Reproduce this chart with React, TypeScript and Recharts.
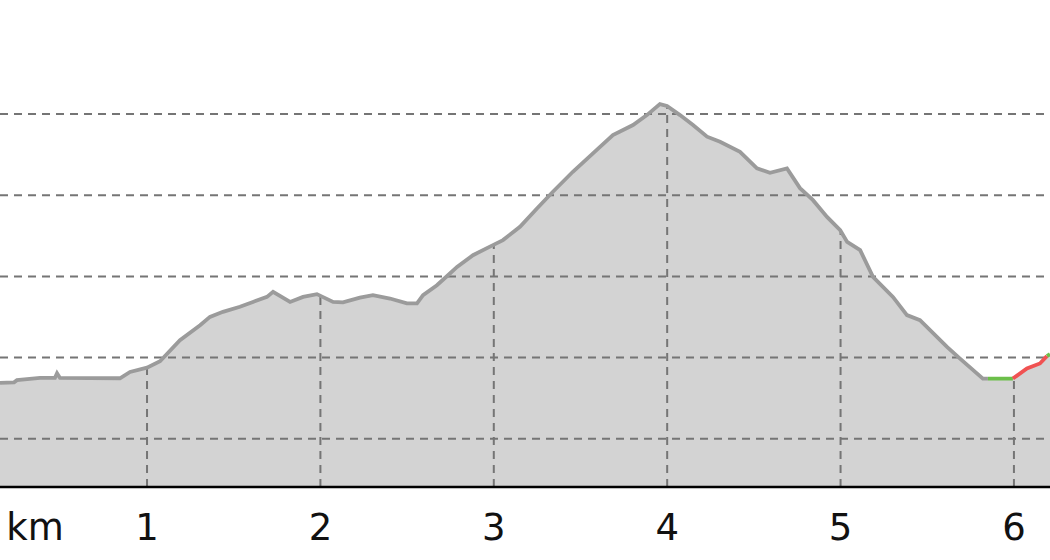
import React from "react";
import { ComposedChart, Area, Line, XAxis, YAxis, ReferenceLine, Label } from "recharts";

// Distance along the route (km)
const distanceKm = [
  0.152, 0.233, 0.25, 0.383, 0.469, 0.481, 0.498, 0.844, 0.902, 1.0,
  1.075, 1.19, 1.306, 1.363, 1.438, 1.536, 1.611, 1.692, 1.727, 1.825,
  1.9, 1.98, 2.073, 2.13, 2.228, 2.303, 2.401, 2.499, 2.557, 2.592,
  2.672, 2.747, 2.788, 2.88, 2.995, 3.053, 3.151, 3.249, 3.341, 3.456,
  3.572, 3.687, 3.803, 3.883, 3.958, 3.999, 4.074, 4.149, 4.23, 4.305,
  4.42, 4.518, 4.593, 4.691, 4.766, 4.841, 4.922, 4.998, 5.038, 5.113,
  5.187, 5.302, 5.383, 5.458, 5.614, 5.689, 5.821, 5.85, 5.994, 6.075,
  6.15, 6.19, 6.208,
];

// Elevation (m)
const elevationM = [
  484.4, 484.8, 486.1, 487.5, 487.6, 490.4, 487.5, 487.3, 491.2, 493.8,
  497.8, 510.7, 520.0, 525.1, 528.2, 531.3, 534.3, 537.4, 540.5, 534.3,
  537.4, 539.1, 534.3, 534.0, 537.0, 538.5, 536.4, 533.4, 533.4, 538.5,
  544.6, 551.8, 555.9, 563.1, 569.3, 572.4, 580.6, 591.9, 602.2, 614.5,
  625.8, 637.1, 643.3, 649.4, 656.2, 655.0, 649.4, 643.3, 636.1, 633.0,
  626.8, 616.6, 613.9, 616.5, 604.4, 597.0, 586.7, 578.5, 571.3, 566.2,
  549.8, 537.4, 526.2, 523.1, 506.6, 499.4, 487.1, 487.1, 487.1, 493.3,
  496.4, 500.9, 502.1,
];

// Coloured stretches of the profile line (km ranges)
const segFrom = [0.152, 5.85, 5.994, 6.19];
const segTo = [5.85, 5.994, 6.19, 6.208];
const segKey = ["gray", "green", "red", "green"];

const kmTicks = [1, 2, 3, 4, 5, 6];
const gridElevations = [450, 500, 550, 600, 650];
const xDomain = [0.152, 6.208];
const yDomain = [420.3, 720.3];
const unitLabel = "km";

const seriesColors: Record<string, string> = {
  gray: "#9b9b9b",
  green: "#6cbf4a",
  red: "#f05252",
};

const data = distanceKm.map((km, i) => {
  const row: any = { km, elev: elevationM[i] };
  segKey.forEach((k, s) => {
    if (km >= segFrom[s] - 1e-9 && km <= segTo[s] + 1e-9) row[k] = elevationM[i];
  });
  return row;
});

function elevAt(km: number): number {
  for (let i = 0; i < distanceKm.length - 1; i++) {
    const a = distanceKm[i];
    const b = distanceKm[i + 1];
    if (km >= a && km <= b) {
      const t = (km - a) / (b - a);
      return elevationM[i] + t * (elevationM[i + 1] - elevationM[i]);
    }
  }
  return elevationM[elevationM.length - 1];
}

const FONT = "'DejaVu Sans', sans-serif";
const gridStroke = "#757575";

const Tick = (props: any) => {
  const { x, y, payload } = props;
  return (
    <text x={x} y={y + 53} textAnchor="middle" fontFamily={FONT} fontSize={37} fill="#111">
      {payload.value}
    </text>
  );
};

export default function App() {
  return (
    <div style={{ position: "absolute", left: 0, top: 0, width: 1050, height: 560, background: "#fff" }}>
      <ComposedChart width={1050} height={560} data={data} margin={{ top: 0, right: 0, bottom: 0, left: 0 }}>
        <XAxis
          dataKey="km"
          type="number"
          domain={xDomain}
          allowDataOverflow
          ticks={kmTicks}
          tick={<Tick />}
          tickLine={false}
          tickSize={0}
          tickMargin={0}
          height={73}
          axisLine={{ stroke: "#000", strokeWidth: 2.5 }}
          interval={0}
        >
          <Label
            content={(p: any) => {
              const vb = p.viewBox || { x: 0, y: 487 };
              return (
                <text x={vb.x + 35} y={vb.y + 53} textAnchor="middle" fontFamily={FONT} fontSize={37} fill="#111">
                  {unitLabel}
                </text>
              );
            }}
          />
        </XAxis>
        <YAxis type="number" domain={yDomain} allowDataOverflow hide />
        <Area
          type="linear"
          dataKey="elev"
          fill="#d3d3d3"
          fillOpacity={1}
          stroke="none"
          isAnimationActive={false}
          dot={false}
          activeDot={false}
        />
        {gridElevations.map((g) => (
          <ReferenceLine key={"h" + g} y={g} stroke={gridStroke} strokeWidth={2} strokeDasharray="8 6" />
        ))}
        {kmTicks.map((t) => (
          <ReferenceLine
            key={"v" + t}
            segment={[
              { x: t, y: yDomain[0] },
              { x: t, y: elevAt(t) },
            ]}
            stroke={gridStroke}
            strokeWidth={2}
            strokeDasharray="8 6"
          />
        ))}
        {["gray", "green", "red"].map((k) => (
          <Line
            key={k}
            type="linear"
            dataKey={k}
            stroke={seriesColors[k]}
            strokeWidth={3.8}
            dot={false}
            activeDot={false}
            connectNulls={false}
            isAnimationActive={false}
          />
        ))}
      </ComposedChart>
    </div>
  );
}
